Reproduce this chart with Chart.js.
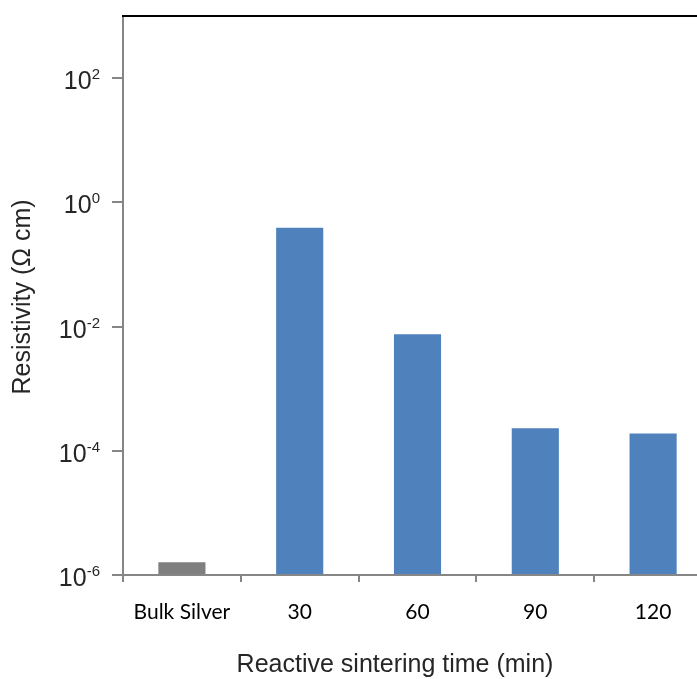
<!DOCTYPE html>
<html>
<head>
<meta charset="utf-8">
<script src="https://cdn.jsdelivr.net/npm/chart.js@4/dist/chart.umd.min.js"></script>
<style>
  html, body { margin: 0; padding: 0; background: #fff; overflow: hidden; }
  #wrap { width: 720px; height: 679px; position: relative; }
</style>
</head>
<body>
<div id="wrap"><canvas id="resChart"></canvas></div>
<script>
// Resistivity vs reactive sintering time
const categories = ['Bulk Silver', '30', '60', '90', '120'];
const resistivity = [1.6e-6, 0.39, 0.0075, 2.3e-4, 1.9e-4];
const barColors = ['#7f7f7f', '#4f81bd', '#4f81bd', '#4f81bd', '#4f81bd'];
const yTickValues = [1e-6, 1e-4, 1e-2, 1, 100];
const yTickExponents = ['-6', '-4', '-2', '0', '2'];
const xTitle = 'Reactive sintering time (min)';
const yTitle = 'Resistivity (Ω cm)';

// labels with superscripts, frame top line, axis titles
const extrasPlugin = {
    id: 'extras',
    afterDraw(chart) {
        const ctx = chart.ctx;
        const area = chart.chartArea;
        const y = chart.scales.y;
        ctx.save();
        // top frame line
        ctx.strokeStyle = '#000';
        ctx.lineWidth = 2;
        ctx.beginPath();
        ctx.moveTo(area.left - 1, area.top);
        ctx.lineTo(area.right, area.top);
        ctx.stroke();

        // y tick labels 10^n
        ctx.fillStyle = '#262626';
        ctx.textBaseline = 'alphabetic';
        yTickValues.forEach((v, i) => {
            const py = y.getPixelForValue(v);
            const exp = yTickExponents[i];
            ctx.font = '15px "Liberation Sans", Arial, sans-serif';
            const ew = ctx.measureText(exp).width;
            ctx.textAlign = 'right';
            const right = area.left - 23;
            ctx.fillText(exp, right, py + 1);
            ctx.font = '25px "Liberation Sans", Arial, sans-serif';
            ctx.fillText('10', right - ew, py + 11);
        });

        // axis titles
        ctx.fillStyle = '#262626';
        ctx.font = '25px "Liberation Sans", Arial, sans-serif';
        ctx.textAlign = 'center';
        ctx.textBaseline = 'middle';
        ctx.fillText(xTitle, 395, 665);
        ctx.translate(23, 297);
        ctx.rotate(-Math.PI / 2);
        ctx.fillText(yTitle, 0, 0);
        ctx.restore();
    }
};

new Chart(document.getElementById('resChart'), {
    type: 'bar',
    data: {
        labels: categories,
        datasets: [{
            data: resistivity,
            backgroundColor: barColors,
            borderWidth: 0,
            barPercentage: 0.4,
            categoryPercentage: 1.0,
            base: 1e-6
        }]
    },
    options: {
        responsive: true,
        maintainAspectRatio: false,
        animation: false,
        layout: { padding: { top: 16, left: 0, right: 8, bottom: 0 } },
        plugins: {
            legend: { display: false },
            tooltip: { enabled: false }
        },
        scales: {
            x: {
                grid: {
                    offset: true,
                    drawOnChartArea: false,
                    drawTicks: true,
                    tickLength: 7,
                    color: '#868686',
                    lineWidth: 2
                },
                border: { color: '#868686', width: 2 },
                ticks: {
                    color: '#000',
                    font: { family: 'Lato, "Open Sans", sans-serif', size: 21 },
                    padding: 18,
                    maxRotation: 0,
                    autoSkip: false
                },
                afterFit: (scale) => { scale.height = 104; }
            },
            y: {
                type: 'logarithmic',
                min: 1e-6,
                max: 1e3,
                afterBuildTicks: (scale) => {
                    scale.ticks = yTickValues.map(v => ({ value: v }));
                },
                grid: {
                    drawOnChartArea: false,
                    drawTicks: true,
                    tickLength: 11,
                    color: '#868686',
                    lineWidth: 2
                },
                border: { color: '#868686', width: 2 },
                ticks: {
                    callback: () => ''
                },
                afterFit: (scale) => { scale.width = 123; }
            }
        }
    },
    plugins: [extrasPlugin]
});
</script>
</body>
</html>
